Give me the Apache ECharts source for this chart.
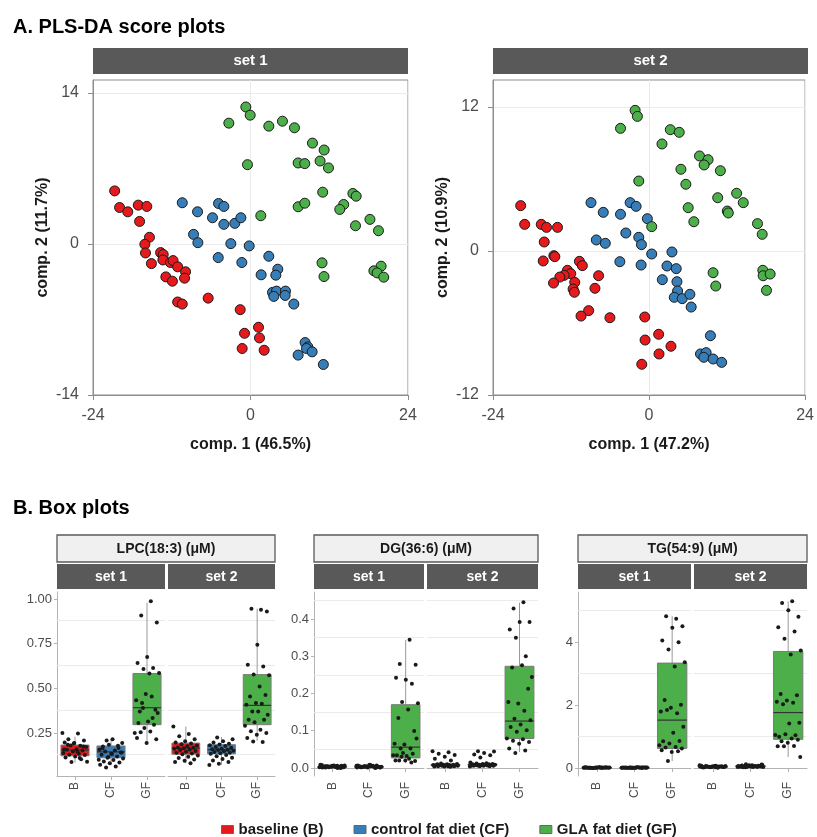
<!DOCTYPE html>
<html><head><meta charset="utf-8">
<script src="https://cdn.jsdelivr.net/npm/echarts@6/dist/echarts.min.js"></script>
<style>html,body{margin:0;padding:0;background:#fff}#c{width:817px;height:837px}</style>
</head><body><div id="c"></div>
<script>
// ---------- DATA ----------
const groupNames = ['baseline (B)', 'control fat diet (CF)', 'GLA fat diet (GF)'];
const boxCats = ['B', 'CF', 'GF'];

// PLS-DA scores, set 1
const s1Baseline = [[-20.7,4.92],[-19.95,3.38],[-18.7,2.98],[-17.1,3.6],[-15.8,3.48],[-16.9,2.09],[-15.4,0.62],[-16.1,-0.03],[-16.0,-0.83],[-15.1,-1.82],[-13.7,-0.8],[-13.3,-0.98],[-13.35,-1.48],[-12.2,-1.72],[-11.8,-1.54],[-11.1,-2.12],[-9.9,-2.58],[-12.9,-3.05],[-11.9,-3.45],[-10.05,-3.17],[-11.1,-5.38],[-10.4,-5.57],[-6.45,-5.02],[-1.57,-6.09],[1.22,-7.72],[-0.91,-8.28],[1.37,-8.71],[-1.27,-9.69],[2.08,-9.85]];
const s1Control = [[-10.4,3.82],[-8.07,2.98],[-4.87,3.75],[-4.06,3.48],[-5.79,2.43],[-4.06,1.82],[-2.39,1.91],[-1.47,2.43],[-8.68,0.89],[-8.02,0.12],[-3.0,0.03],[-0.2,-0.18],[-4.92,-1.26],[-1.32,-1.72],[2.79,-1.14],[1.62,-2.86],[4.16,-2.34],[3.86,-2.89],[3.35,-4.49],[3.96,-4.37],[5.33,-4.37],[3.55,-4.86],[5.28,-4.77],[6.6,-5.57],[8.32,-9.14],[8.73,-9.54],[8.53,-9.69],[9.39,-10.0],[7.26,-10.3],[11.1,-11.17]];
const s1GLA = [[-0.71,12.7],[-0.05,11.94],[-3.3,11.2],[2.79,10.92],[4.87,11.38],[6.7,10.77],[9.44,9.35],[11.22,8.71],[7.26,7.51],[8.27,7.45],[10.6,7.69],[11.88,7.05],[-0.46,7.35],[11.0,4.8],[15.6,4.68],[16.1,4.43],[14.2,3.66],[13.6,3.2],[7.26,3.45],[8.27,3.78],[1.57,2.62],[16.0,1.69],[18.2,2.28],[19.5,1.23],[10.9,-1.75],[11.2,-3.02],[19.9,-2.06],[18.8,-2.49],[19.3,-2.68],[20.3,-3.08]];

// PLS-DA scores, set 2
const s2Baseline = [[-19.74,3.78],[-19.13,2.22],[-16.58,2.22],[-15.77,1.97],[-14.08,1.97],[-16.12,0.75],[-16.28,-0.83],[-14.64,-0.39],[-14.49,-0.47],[-10.71,-0.86],[-10.26,-1.22],[-12.55,-1.61],[-12.04,-1.89],[-13.06,-2.03],[-13.72,-2.17],[-14.69,-2.67],[-11.43,-2.61],[-11.68,-3.17],[-11.48,-3.44],[-7.76,-2.06],[-8.32,-3.11],[-9.29,-4.97],[-10.46,-5.42],[-6.02,-5.56],[-0.66,-5.5],[1.48,-6.94],[-0.61,-7.42],[3.37,-7.94],[1.53,-8.58],[-1.12,-9.44]];
const s2Control = [[-8.93,4.03],[-7.04,3.22],[-4.39,3.06],[-2.91,4.03],[-1.99,3.72],[-0.26,2.69],[-3.57,1.5],[-8.11,0.92],[-6.73,0.64],[-1.58,1.14],[-1.17,0.53],[0.41,-0.25],[3.52,-0.08],[-4.49,-0.89],[-1.22,-1.17],[2.76,-1.25],[4.18,-1.47],[2.04,-2.39],[4.29,-2.56],[4.39,-3.33],[3.88,-3.86],[5.1,-3.97],[6.28,-3.61],[6.48,-4.67],[9.44,-7.06],[7.91,-8.58],[8.78,-8.47],[8.42,-8.86],[9.85,-9.0],[11.17,-9.28]];
const s2GLA = [[-2.14,11.72],[-1.79,11.22],[-4.39,10.22],[3.27,10.11],[4.64,9.89],[1.99,8.92],[7.76,7.92],[9.08,7.61],[8.47,7.17],[10.97,6.69],[4.9,6.81],[5.66,5.56],[-1.58,5.83],[10.56,4.44],[13.47,4.81],[14.49,4.03],[12.04,3.33],[12.19,3.17],[6.02,3.61],[6.89,2.44],[0.41,2.03],[16.68,2.28],[17.4,1.39],[9.85,-1.81],[10.26,-2.92],[17.5,-1.61],[17.55,-2.06],[18.62,-1.92],[18.06,-3.28]];

// axis ticks
const scoreXTicks = [-24, 0, 24];
const s1YTicks = [-14, 0, 14];
const s2YTicks = [-12, 0, 12];
const lpcTicks = [0.25, 0.5, 0.75, 1.0];
const lpcMinor = [0.125, 0.375, 0.625, 0.875];
const dgTicks = [0.0, 0.1, 0.2, 0.3, 0.4];
const dgMinor = [0.05, 0.15, 0.25, 0.35, 0.45];
const tgTicks = [0, 2, 4];
const tgMinor = [1, 3, 5];

// box stats [min, q1, median, q3, max] for B, CF, GF
const lpcS1Box = [[0.085,0.123,0.155,0.183,0.23],[0.07,0.112,0.145,0.178,0.215],[0.19,0.297,0.392,0.583,0.98]];
const lpcS2Box = [[0.082,0.132,0.166,0.194,0.287],[0.073,0.134,0.157,0.185,0.228],[0.207,0.297,0.405,0.577,0.946]];
const dgS1Box = [[0,0.001,0.003,0.005,0.01],[0,0.001,0.003,0.005,0.01],[0.013,0.027,0.056,0.17,0.344]];
const dgS2Box = [[0.003,0.006,0.008,0.01,0.014],[0.004,0.007,0.009,0.011,0.016],[0.043,0.079,0.126,0.273,0.444]];
const tgS1Box = [[0,0.005,0.01,0.015,0.025],[0,0.005,0.01,0.016,0.028],[0.22,0.62,1.52,3.33,4.82]];
const tgS2Box = [[0,0.02,0.04,0.06,0.09],[0,0.03,0.05,0.08,0.12],[0.35,0.91,1.76,3.7,5.29]];

// individual values
const lpcS1B = [0.25,0.248,0.216,0.209,0.194,0.198,0.179,0.181,0.172,0.160,0.157,0.153,0.147,0.138,0.134,0.129,0.127,0.119,0.114,0.104,0.088,0.09,0.146,0.185,0.175,0.192,0.158,0.11];
const lpcS1CF = [0.209,0.194,0.216,0.175,0.166,0.185,0.157,0.153,0.147,0.142,0.134,0.129,0.119,0.112,0.108,0.10,0.091,0.086,0.082,0.073,0.063,0.058,0.141,0.133,0.165,0.179,0.116,0.101];
const lpcS1GF = [0.987,0.907,0.869,0.675,0.642,0.614,0.608,0.586,0.583,0.371,0.38,0.468,0.433,0.455,0.418,0.362,0.315,0.306,0.297,0.278,0.25,0.259,0.254,0.216,0.194,0.222,0.334,0.39];
const lpcS2B = [0.287,0.245,0.232,0.215,0.205,0.198,0.192,0.188,0.18,0.176,0.17,0.168,0.165,0.162,0.158,0.155,0.15,0.146,0.14,0.136,0.132,0.125,0.118,0.11,0.102,0.095,0.088,0.082];
const lpcS2CF = [0.225,0.215,0.205,0.198,0.19,0.186,0.182,0.178,0.172,0.168,0.163,0.16,0.157,0.155,0.151,0.148,0.144,0.14,0.137,0.134,0.128,0.12,0.112,0.105,0.096,0.088,0.078,0.072];
const lpcS2GF = [0.94,0.946,0.93,0.744,0.632,0.623,0.577,0.574,0.511,0.455,0.463,0.418,0.409,0.414,0.371,0.353,0.371,0.325,0.325,0.31,0.291,0.269,0.26,0.25,0.24,0.222,0.2,0.203];
const dgS1B = [0.002,0.004,0.001,0.006,0.003,0.008,0.0,0.005,0.002,0.007,0.003,0.001,0.004,0.009,0.002,0.005,0.003,0.006,0.001,0.004,0.002,0.007,0.003,0.005,0.0,0.004,0.002,0.006];
const dgS1CF = [0.003,0.001,0.005,0.002,0.007,0.004,0.001,0.006,0.003,0.002,0.008,0.004,0.0,0.005,0.003,0.006,0.002,0.004,0.001,0.007,0.003,0.005,0.002,0.009,0.004,0.001,0.003,0.006];
const dgS1GF = [0.344,0.279,0.277,0.237,0.242,0.226,0.177,0.174,0.157,0.134,0.099,0.063,0.065,0.052,0.052,0.079,0.032,0.034,0.038,0.04,0.034,0.025,0.02,0.019,0.02,0.02,0.015,0.03];
const dgS2B = [0.045,0.042,0.038,0.035,0.03,0.025,0.02,0.012,0.011,0.01,0.01,0.009,0.009,0.008,0.008,0.008,0.007,0.007,0.007,0.006,0.006,0.006,0.005,0.005,0.005,0.004,0.004,0.003];
const dgS2CF = [0.045,0.044,0.04,0.036,0.034,0.028,0.015,0.013,0.012,0.011,0.011,0.01,0.01,0.009,0.009,0.009,0.008,0.008,0.008,0.007,0.007,0.007,0.006,0.006,0.006,0.005,0.005,0.004];
const dgS2GF = [0.445,0.428,0.392,0.392,0.372,0.3,0.35,0.244,0.276,0.27,0.213,0.173,0.177,0.154,0.132,0.128,0.117,0.11,0.101,0.097,0.079,0.077,0.073,0.07,0.065,0.052,0.047,0.04];
const tgS1B = [0.01,0.02,0.005,0.015,0.012,0.008,0.018,0.003,0.01,0.022,0.006,0.014,0.009,0.016,0.011,0.004,0.019,0.007,0.013,0.01,0.002,0.017,0.012,0.006,0.015,0.009,0.021,0.008];
const tgS1CF = [0.012,0.006,0.018,0.009,0.015,0.003,0.011,0.02,0.007,0.014,0.01,0.005,0.017,0.008,0.013,0.024,0.004,0.012,0.009,0.016,0.006,0.011,0.019,0.008,0.013,0.002,0.015,0.01];
const tgS1GF = [4.74,4.82,4.5,4.45,4.05,3.99,3.76,3.36,3.22,2.16,2.01,1.91,1.79,1.74,1.84,1.31,1.12,0.85,0.86,0.78,0.72,0.67,0.65,0.62,0.51,0.56,0.53,0.22];
const tgS2B = [0.09,0.07,0.06,0.05,0.045,0.04,0.04,0.035,0.03,0.06,0.02,0.05,0.025,0.04,0.035,0.055,0.03,0.045,0.015,0.05,0.04,0.065,0.02,0.03,0.045,0.035,0.075,0.01];
const tgS2CF = [0.12,0.1,0.09,0.08,0.075,0.07,0.06,0.055,0.05,0.05,0.045,0.04,0.04,0.035,0.03,0.03,0.025,0.06,0.085,0.045,0.065,0.02,0.11,0.05,0.07,0.04,0.055,0.03];
const tgS2GF = [5.29,5.24,4.8,5.01,4.47,4.33,4.1,3.73,3.6,2.35,2.31,2.14,2.1,2.07,2.02,1.44,1.41,0.99,1.04,1.07,1.05,0.94,0.85,0.9,0.8,0.69,0.7,0.69,0.35];

// ---------- STYLE / LAYOUT ----------
const FONT = '"Liberation Sans", Arial, sans-serif';
const groupColors = ['#e41a1c', '#377eb8', '#4daf4a'];
const axisGray = '#8c8c8c';
const gridGray = '#ebebeb';
const labelGray = '#4d4d4d';

const grids = [], xAxes = [], yAxes = [], series = [], graphics = [];

// ---------- Score plots ----------
const scorePanels = [
  {left: 93, label: 'set 1', sets: [s1Baseline, s1Control, s1GLA], yTicks: s1YTicks, yMin: -14, yMax: 15.2, yInt: 14, xName: 'comp. 1 (46.5%)', yName: 'comp. 2 (11.7%)'},
  {left: 493, label: 'set 2', sets: [s2Baseline, s2Control, s2GLA], yTicks: s2YTicks, yMin: -12, yMax: 14.25, yInt: 12, xName: 'comp. 1 (47.2%)', yName: 'comp. 2 (10.9%)'}
];
const SP_TOP = 80, SP_W = 315, SP_H = 315;
scorePanels.forEach((p, k) => {
  const gi = grids.length;
  grids.push({left: p.left, top: SP_TOP, width: SP_W, height: SP_H, show: true, borderColor: axisGray, borderWidth: 1, backgroundColor: '#fff'});
  const xi = xAxes.length;
  xAxes.push({
    type: 'value', gridIndex: gi, min: -24, max: 24, interval: 24,
    axisLine: {show: true, onZero: false, lineStyle: {color: axisGray}},
    axisTick: {show: true, length: 5, lineStyle: {color: axisGray}},
    axisLabel: {fontSize: 16, color: labelGray, margin: 13, fontFamily: FONT, customValues: scoreXTicks},
    splitLine: {show: true, lineStyle: {color: gridGray}},
    name: p.xName, nameLocation: 'middle', nameGap: 42,
    nameTextStyle: {fontSize: 16, fontWeight: 'bold', color: '#1a1a1a', fontFamily: FONT}
  });
  const yi = yAxes.length;
  yAxes.push({
    type: 'value', gridIndex: gi, min: p.yMin, max: p.yMax, interval: p.yInt,
    axisLine: {show: true, onZero: false, lineStyle: {color: axisGray}},
    axisTick: {show: true, length: 5, lineStyle: {color: axisGray}, customValues: p.yTicks},
    axisLabel: {fontSize: 16, color: labelGray, margin: 14, fontFamily: FONT, customValues: p.yTicks},
    splitLine: {show: true, lineStyle: {color: gridGray}},
    name: p.yName, nameLocation: 'middle', nameGap: 42, nameRotate: 90,
    nameTextStyle: {fontSize: 16, fontWeight: 'bold', color: '#1a1a1a', fontFamily: FONT}
  });
  p.sets.forEach((pts, g) => {
    series.push({
      type: 'scatter', name: groupNames[g], xAxisIndex: xi, yAxisIndex: yi,
      data: pts, symbol: 'circle', symbolSize: 10,
      itemStyle: {color: groupColors[g], borderColor: '#1a1a1a', borderWidth: 1, opacity: 1},
      emphasis: {disabled: true}, z: 3
    });
  });
  graphics.push({type: 'rect', shape: {x: p.left, y: 48, width: SP_W, height: 26}, style: {fill: '#595959'}});
  graphics.push({type: 'text', x: p.left + SP_W / 2, y: 61, style: {text: p.label, fill: '#fff', font: 'bold 15px ' + FONT, align: 'center', verticalAlign: 'middle'}});
});

// ---------- Box plots ----------
function jit(i) { return (((i * 0.6180339887) % 1) - 0.5) * 0.7; }
function renderBox(params, api) {
  const x = api.value(0);
  const lo = api.coord([x, api.value(1)]);
  const q1 = api.coord([x, api.value(2)]);
  const md = api.coord([x, api.value(3)]);
  const q3 = api.coord([x, api.value(4)]);
  const hi = api.coord([x, api.value(5)]);
  const w = api.size([0.78, 0])[0];
  const cx = lo[0];
  const col = groupColors[params.dataIndex];
  return {type: 'group', children: [
    {type: 'line', shape: {x1: cx, y1: hi[1], x2: cx, y2: q3[1]}, style: {stroke: '#999', lineWidth: 1}},
    {type: 'line', shape: {x1: cx, y1: q1[1], x2: cx, y2: lo[1]}, style: {stroke: '#999', lineWidth: 1}},
    {type: 'rect', shape: {x: cx - w / 2, y: q3[1], width: w, height: Math.max(q1[1] - q3[1], 1)}, style: {fill: col, stroke: '#7a7a7a', lineWidth: 1}},
    {type: 'line', shape: {x1: cx - w / 2, y1: md[1], x2: cx + w / 2, y2: md[1]}, style: {stroke: '#333', lineWidth: 1.2}}
  ]};
}

const BP_TOP = 592, BP_H = 184;
const boxPanels = [
  {title: 'LPC(18:3) (μM)', x1: 57, w1: 108, x2: 168, w2: 107, yMin: 0.01, yMax: 1.039, ticks: lpcTicks, minor: lpcMinor, fmt: v => v.toFixed(2),
   sets: [[lpcS1Box, [lpcS1B, lpcS1CF, lpcS1GF]], [lpcS2Box, [lpcS2B, lpcS2CF, lpcS2GF]]]},
  {title: 'DG(36:6) (μM)', x1: 314, w1: 110, x2: 427, w2: 111, yMin: -0.0215, yMax: 0.4725, ticks: dgTicks, minor: dgMinor, fmt: v => v.toFixed(1),
   sets: [[dgS1Box, [dgS1B, dgS1CF, dgS1GF]], [dgS2Box, [dgS2B, dgS2CF, dgS2GF]]]},
  {title: 'TG(54:9) (μM)', x1: 578, w1: 113, x2: 694, w2: 113, yMin: -0.254, yMax: 5.587, ticks: tgTicks, minor: tgMinor, fmt: v => String(Math.round(v)),
   sets: [[tgS1Box, [tgS1B, tgS1CF, tgS1GF]], [tgS2Box, [tgS2B, tgS2CF, tgS2GF]]]}
];

boxPanels.forEach(p => {
  // header
  graphics.push({type: 'rect', shape: {x: p.x1, y: 535, width: p.x2 + p.w2 - p.x1, height: 27}, style: {fill: '#f0f0f0', stroke: '#5a5a5a', lineWidth: 1.3}});
  graphics.push({type: 'text', x: (p.x1 + p.x2 + p.w2) / 2, y: 549, style: {text: p.title, fill: '#1a1a1a', font: 'bold 14px ' + FONT, align: 'center', verticalAlign: 'middle'}});
  p.sets.forEach((s, k) => {
    const left = k === 0 ? p.x1 : p.x2;
    const width = k === 0 ? p.w1 : p.w2;
    graphics.push({type: 'rect', shape: {x: left, y: 564, width: width, height: 25}, style: {fill: '#595959'}});
    graphics.push({type: 'text', x: left + width / 2, y: 577, style: {text: 'set ' + (k + 1), fill: '#fff', font: 'bold 14px ' + FONT, align: 'center', verticalAlign: 'middle'}});

    const gi = grids.length;
    grids.push({left: left, top: BP_TOP, width: width, height: BP_H});
    xAxes.push({
      type: 'category', gridIndex: gi, data: boxCats, boundaryGap: true,
      axisLine: {show: true, lineStyle: {color: '#b3b3b3'}},
      axisTick: {show: true, alignWithLabel: true, length: 4, lineStyle: {color: '#b3b3b3'}},
      axisLabel: {rotate: 90, fontSize: 12, color: labelGray, margin: 6, fontFamily: FONT},
      splitLine: {show: false}
    });
    const xv = xAxes.length;
    xAxes.push({type: 'value', gridIndex: gi, min: -0.5, max: 2.5, show: false, splitLine: {show: false}});
    const yi = yAxes.length;
    const first = k === 0;
    yAxes.push({
      type: 'value', gridIndex: gi, min: p.yMin, max: p.yMax,
      axisLine: {show: first, onZero: false, lineStyle: {color: '#b3b3b3'}},
      axisTick: {show: first, length: 3, lineStyle: {color: '#b3b3b3'}, customValues: p.ticks},
      axisLabel: {show: first, fontSize: 13, color: labelGray, margin: 5, fontFamily: FONT, customValues: p.ticks, formatter: p.fmt},
      splitLine: {show: false}
    });
    series.push({
      type: 'custom', xAxisIndex: xv, yAxisIndex: yi, renderItem: renderBox,
      encode: {x: 0, y: [1, 2, 3, 4, 5]},
      data: s[0].map((b, i) => [i].concat(b)), z: 2, silent: true,
      markLine: {silent: true, symbol: 'none', label: {show: false},
        lineStyle: {color: gridGray, type: 'solid', width: 1},
        data: p.minor.map(v => ({yAxis: v})), z: 1}
    });
    const pts = [];
    s[1].forEach((arr, g) => arr.forEach((v, i) => pts.push([g + jit(i + g * 7), v])));
    series.push({
      type: 'scatter', xAxisIndex: xv, yAxisIndex: yi, data: pts, symbolSize: 4,
      itemStyle: {color: '#1a1a1a', opacity: 1}, silent: true, z: 4
    });
  });
});

graphics.push({type: 'text', x: 13, y: 27, style: {text: 'A. PLS-DA score plots', fill: '#000', font: 'bold 20px ' + FONT, verticalAlign: 'middle'}});
graphics.push({type: 'text', x: 13, y: 508, style: {text: 'B. Box plots', fill: '#000', font: 'bold 20px ' + FONT, verticalAlign: 'middle'}});

const chart = echarts.init(document.getElementById('c'), null, {renderer: 'canvas'});
chart.setOption({
  animation: false,
  backgroundColor: '#fff',
  textStyle: {fontFamily: FONT},
  grid: grids, xAxis: xAxes, yAxis: yAxes, series: series,
  legend: {
    left: 216, top: 817, itemWidth: 12, itemHeight: 8, itemGap: 30,
    textStyle: {fontSize: 15, fontWeight: 'bold', color: '#1a1a1a', fontFamily: FONT},
    data: groupNames.map(n => ({name: n, icon: 'rect', itemStyle: {borderColor: '#666', borderWidth: 1}})),
    selectedMode: false
  },
  graphic: graphics
});
</script></body></html>
